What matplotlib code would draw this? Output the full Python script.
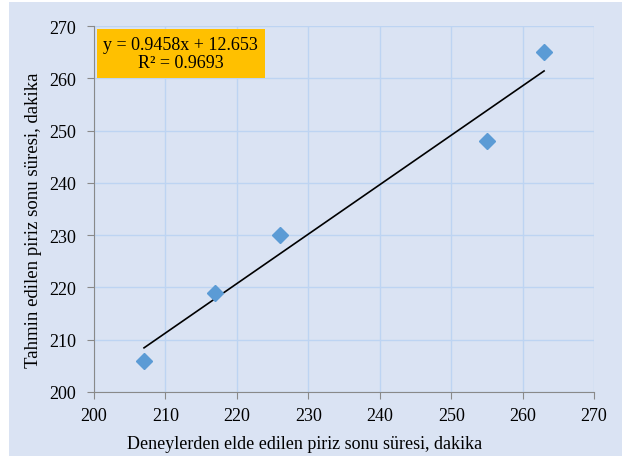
import numpy as np
import matplotlib.pyplot as plt
from matplotlib.patches import Rectangle

plt.rcParams['font.family'] = ['Liberation Serif', 'DejaVu Serif']

# measured vs predicted final setting time (minutes)
deney = [207, 217, 226, 255, 263]
tahmin = [206, 219, 230, 248, 265]

x = np.array(deney, dtype=float)
y = np.array(tahmin, dtype=float)
m, b = np.polyfit(x, y, 1)
r2 = np.corrcoef(x, y)[0, 1] ** 2

fig = plt.figure(figsize=(6.28, 4.60), dpi=100)
fig.patches.append(Rectangle((0.0143, 0.0065), 0.9757, 0.987, transform=fig.transFigure,
                             facecolor='#DAE3F3', edgecolor='none', zorder=-10))
ax = fig.add_axes([0.1497, 0.1457, 0.7963, 0.7955])
ax.set_facecolor('#DAE3F3')

ax.plot(x, y, 'D', color='#5B9BD5', markersize=8, zorder=3)
xs = np.array([x.min(), x.max()])
ax.plot(xs, m * xs + b, color='black', lw=1.2, zorder=2)

ax.set_xlim(200, 270)
ax.set_ylim(200, 270)
ax.set_xticks(np.arange(200, 271, 10))
ax.set_yticks(np.arange(200, 271, 10))
ax.grid(True, color='#BDD4F2', lw=1)
ax.set_axisbelow(True)
for s in ['top', 'right']:
    ax.spines[s].set_visible(False)
for s in ['left', 'bottom']:
    ax.spines[s].set_color('#898989')
ax.tick_params(colors='#898989', labelcolor='black', labelsize=13, length=5, direction='out')
ax.tick_params(axis='y', pad=8)
ax.tick_params(axis='x', pad=6)

ax.set_xlabel('Deneylerden elde edilen piriz sonu süresi, dakika', fontsize=13)
ax.set_ylabel('Tahmin edilen piriz sonu süresi, dakika', fontsize=13.5)
ax.xaxis.set_label_coords(0.422, -0.117)
ax.yaxis.set_label_coords(-0.104, 0.473)

ax.text(0.288, 0.8815, 'y = %.4fx + %.3f\nR² = %.4f' % (m, b, r2), transform=fig.transFigure,
        fontsize=13, ha='center', va='center', linespacing=1.05,
        bbox=dict(facecolor='#FFC000', edgecolor='none', pad=5))

fig.savefig('out.png', dpi=100)
